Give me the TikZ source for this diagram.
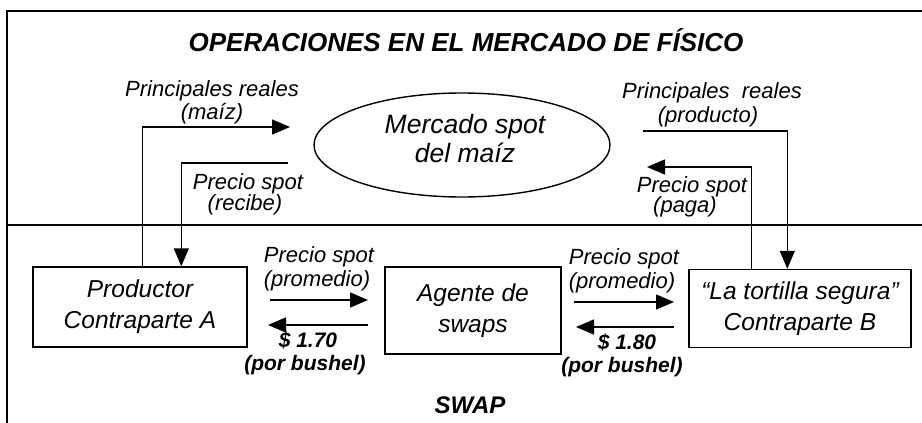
\documentclass[tikz,border=0pt]{standalone}
\usepackage{fontspec}
\setmainfont{Liberation Sans}
\usetikzlibrary{arrows.meta,shapes.geometric}
\begin{document}
\begin{tikzpicture}[x=1pt,y=-1pt,
  ln/.style={line width=1.4pt},
  ar/.style={line width=1.4pt,-{Triangle[length=18pt,width=15pt]}},
  lbl/.style={font=\fontsize{22}{26}\selectfont\itshape, anchor=base, inner sep=0pt},
  blbl/.style={font=\fontsize{21}{25}\selectfont\bfseries\itshape, anchor=base, inner sep=0pt},
  mtxt/.style={font=\fontsize{26.5}{30}\selectfont\itshape, anchor=base, inner sep=0pt},
  boxnode/.style={draw, line width=1.4pt, align=center, inner sep=0pt,
    font=\fontsize{24.5}{31}\selectfont\itshape},
  ttl/.style={font=\fontsize{26}{30}\selectfont\bfseries\itshape, anchor=base, inner sep=0pt},
]
\useasboundingbox (0,0) rectangle (922,423);
% frame and divider
\draw[ln] (922,11) -- (7,11) -- (7,423);
\draw[ln] (7,225) -- (922,225);

% titles
\node[ttl] (title) at (466,51) {OPERACIONES EN EL MERCADO DE FÍSICO};
\node[ttl, font=\fontsize{24}{28}\selectfont\bfseries\itshape] (swap) at (470,413) {SWAP};

% market ellipse
\node[draw, ellipse, line width=1.4pt, minimum width=296pt, minimum height=104pt, inner sep=0pt] (mkt) at (462,145) {};
\node[mtxt] (mkt1) at (465,133) {Mercado spot};
\node[mtxt] (mkt2) at (465,162) {del maíz};

% boxes
\node[boxnode, minimum width=214pt, minimum height=80pt] (A) at (140,307) {Productor\\Contraparte A};
\node[boxnode, minimum width=176pt, minimum height=87pt] (S) at (473,310.5) {Agente de\\swaps};
\node[boxnode, minimum width=222pt, minimum height=78pt] (B) at (800,308.5) {“La tortilla segura”\\Contraparte B};

% physical market connectors
\coordinate (pA1) at (290,127);
\coordinate (pA2) at (288,163);
\coordinate (pB1) at (643,131);
\coordinate (pB2) at (647,167);
\draw[ar] ([xshift=110pt]A.north west) |- (pA1);
\draw[ar] (pA2) -| ([xshift=149pt]A.north west);
\draw[ar] (pB1) -| ([xshift=99pt]B.north west);
\draw[ar] ([xshift=63pt]B.north west) |- (pB2);

\node[lbl] (l1) at (212,96) {Principales reales};
\node[lbl] (l2) at (212,119) {(maíz)};
\node[lbl] (l3) at (248,189) {Precio spot};
\node[lbl] (l4) at (245,210) {(recibe)};
\node[lbl] (r1) at (712,98) {Principales\ \ reales};
\node[lbl] (r2) at (708,122) {(producto)};
\node[lbl] (r3) at (692,192) {Precio spot};
\node[lbl] (r4) at (685,212) {(paga)};

% swap connectors
\coordinate (s1a) at (270,300);
\coordinate (s1b) at (368,300);
\coordinate (s2a) at (368,325);
\coordinate (s2b) at (268,325);
\coordinate (s3a) at (574,302);
\coordinate (s3b) at (674,302);
\coordinate (s4a) at (674,327);
\coordinate (s4b) at (576,327);
\draw[ar] (s1a) -- (s1b);
\draw[ar] (s2a) -- (s2b);
\draw[ar] (s3a) -- (s3b);
\draw[ar] (s4a) -- (s4b);

\node[lbl] (a1) at (319,262) {Precio spot};
\node[lbl] (a2) at (317,286) {(promedio)};
\node[blbl] (a3) at (308,347) {\$ 1.70};
\node[blbl] (a4) at (305,370) {(por bushel)};
\node[lbl] (b1) at (624,264) {Precio spot};
\node[lbl] (b2) at (622,288) {(promedio)};
\node[blbl] (b3) at (627,349) {\$ 1.80};
\node[blbl] (b4) at (622,372) {(por bushel)};
\end{tikzpicture}
\end{document}
